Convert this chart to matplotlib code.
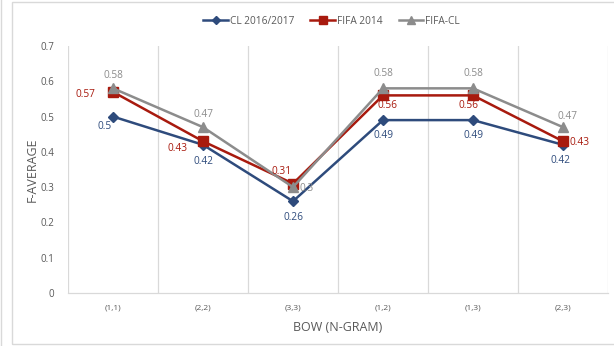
import matplotlib
matplotlib.use("Agg")
import matplotlib.pyplot as plt
from matplotlib.patches import Rectangle
from matplotlib.lines import Line2D

plt.rcParams['font.family'] = ['Open Sans', 'DejaVu Sans']

categories = ["(1,1)", "(2,2)", "(3,3)", "(1,2)", "(1,3)", "(2,3)"]
cl_2016_2017 = [0.5, 0.42, 0.26, 0.49, 0.49, 0.42]
fifa_2014 = [0.57, 0.43, 0.31, 0.56, 0.56, 0.43]
fifa_cl = [0.58, 0.47, 0.3, 0.58, 0.58, 0.47]
y_ticks = [0, 0.1, 0.2, 0.3, 0.4, 0.5, 0.6, 0.7]

series = [
    ("CL 2016/2017", cl_2016_2017, "#2E4B7C", "D", 5),
    ("FIFA 2014", fifa_2014, "#A81A0E", "s", 6.5),
    ("FIFA-CL", fifa_cl, "#8C8C8C", "^", 7),
]

# label offsets in points (dx, dy) per series, per point
label_offsets = {
    "CL 2016/2017": [(-6, -7), (0, -12), (0, -12), (0, -11), (0, -11), (-2, -11)],
    "FIFA 2014": [(-20, -2), (-18, -5), (-8, 9), (3, -7), (-3, -7), (12, -1)],
    "FIFA-CL": [(0, 9), (0, 9), (10, -1), (0, 11), (0, 11), (3, 8)],
}

W, H = 614, 346
fig = plt.figure(figsize=(W / 100, H / 100), dpi=100)
fig.patch.set_facecolor("white")

# chart frame
fig.add_artist(Rectangle((12 / W, 2 / H), 1.2, (344 - 2) / H, transform=fig.transFigure,
                         fill=False, edgecolor="#D9D9D9", linewidth=1.0))
fig.add_artist(Line2D([1 / W, 1 / W], [0, 1], transform=fig.transFigure,
                      color="#D9D9D9", linewidth=1.0))

ax = fig.add_axes([68 / W, (H - 293) / H, (608 - 68) / W, (293 - 46) / H])
x = list(range(len(categories)))

for name, vals, color, marker, ms in series:
    ax.plot(x, vals, color=color, linewidth=1.8, marker=marker, markersize=ms,
            label=name, zorder=3)
    for i, v in enumerate(vals):
        dx, dy = label_offsets[name][i]
        ax.annotate(f"{v:g}", (x[i], v), xytext=(dx, dy), textcoords="offset points",
                    ha="center", va="center", fontsize=7.3, color=color, zorder=4)

ax.set_xlim(-0.5, len(categories) - 0.5)
ax.set_ylim(0, 0.7)
ax.set_xticks(x)
ax.set_xticklabels(categories, fontsize=6, color="#595959")
ax.set_yticks(y_ticks)
ax.set_yticklabels([f"{t:g}" for t in y_ticks], fontsize=7, color="#595959")
ax.tick_params(axis="both", length=0)
ax.tick_params(axis="x", pad=8)
ax.tick_params(axis="y", pad=10)

# vertical separators between categories
for b in [i - 0.5 for i in range(len(categories) + 1)]:
    ax.axvline(b, color="#D9D9D9", linewidth=0.9, zorder=1)
for s in ["top", "right", "left"]:
    ax.spines[s].set_visible(False)
ax.spines["bottom"].set_color("#D9D9D9")
ax.spines["bottom"].set_linewidth(0.9)

ax.set_xlabel("BOW (N-GRAM)", fontsize=9, color="#595959", labelpad=7)
ax.set_ylabel("F-AVERAGE", fontsize=9, color="#595959", labelpad=1)

handles, labels = ax.get_legend_handles_labels()
leg = fig.legend(handles, labels, loc="center", bbox_to_anchor=(0.54, 1 - 21 / H),
                 ncol=3, frameon=False, fontsize=7.3, handlelength=2.4,
                 columnspacing=1.6, handletextpad=0.2, markerscale=0.8)
for t in leg.get_texts():
    t.set_color("#595959")

fig.savefig("out.png", dpi=100)
